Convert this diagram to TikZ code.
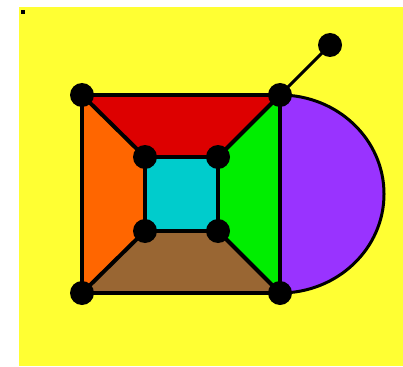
\documentclass[tikz,border=0pt]{standalone}
\usetikzlibrary{positioning, backgrounds}
\definecolor{bgYellow}{HTML}{FFFF33}
\definecolor{faceRed}{HTML}{DD0000}
\definecolor{faceOrange}{HTML}{FF6600}
\definecolor{faceGreen}{HTML}{00EE00}
\definecolor{faceCyan}{HTML}{00CCCC}
\definecolor{faceBrown}{HTML}{996633}
\definecolor{facePurple}{HTML}{9933FF}
\begin{document}
\begin{tikzpicture}[
    x=1pt, y=-1pt,
    dot/.style={circle, fill=black, minimum size=24pt, inner sep=0pt},
    edge/.style={line width=4pt, line join=round},
  ]
    \useasboundingbox (0,0) rectangle (403,366);

    % Vertices
    \node[dot] (o1) at (82,95) {};
    \node[dot] (o2) at (280,95) {};
    \node[dot] (o3) at (280,293) {};
    \node[dot] (o4) at (82,293) {};
    \node[dot] (i1) at (145,157) {};
    \node[dot] (i2) at (218,157) {};
    \node[dot] (i3) at (218,231) {};
    \node[dot] (i4) at (145,231) {};
    \node[dot] (tip) at (330,45) {};

    \begin{scope}[on background layer]
    % Fondo
    \fill[bgYellow] (19,7) rectangle (403,366);
    \fill[black] (21,10) rectangle (25,14);

    % Caras
    \fill[facePurple, draw=black, line width=3pt] (o2.center) arc[start angle=-90, end angle=90, x radius=104, y radius=99];
    \fill[faceRed] (o1.center) -- (o2.center) -- (i2.center) -- (i1.center) -- cycle;
    \fill[faceGreen] (o2.center) -- (o3.center) -- (i3.center) -- (i2.center) -- cycle;
    \fill[faceBrown] (o3.center) -- (o4.center) -- (i4.center) -- (i3.center) -- cycle;
    \fill[faceOrange] (o4.center) -- (o1.center) -- (i1.center) -- (i4.center) -- cycle;
    \fill[faceCyan] (i1.center) -- (i2.center) -- (i3.center) -- (i4.center) -- cycle;

    % Aristas
    \draw[edge] (o1.center) -- (o2.center) -- (o3.center) -- (o4.center) -- cycle;
    \draw[edge] (i1.center) -- (i2.center) -- (i3.center) -- (i4.center) -- cycle;
    \foreach \a/\b in {o1/i1, o2/i2, o3/i3, o4/i4}
      \draw[edge] (\a.center) -- (\b.center);
    \draw[line width=3pt] (o2.center) -- (tip.center);
    \end{scope}
  \end{tikzpicture}
\end{document}
